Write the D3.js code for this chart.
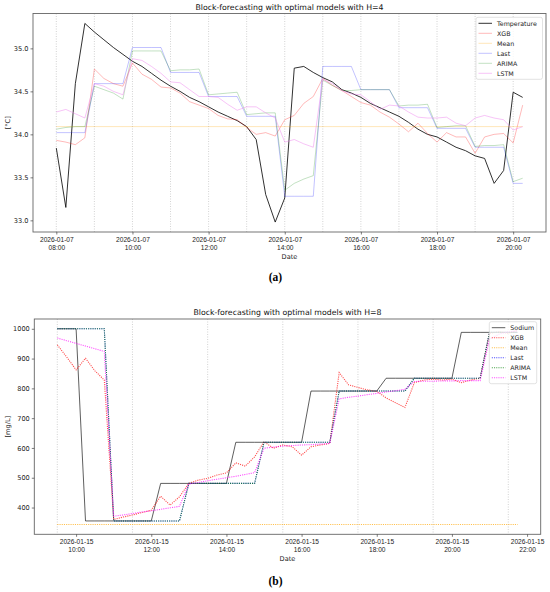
<!DOCTYPE html>
<html>
<head>
<meta charset="utf-8">
<script src="https://cdn.jsdelivr.net/npm/d3@7"></script>
<style>
  body { margin: 0; background: #fff; }
  svg { font-family: "DejaVu Sans", sans-serif; }
</style>
</head>
<body>
<svg id="chart" width="550" height="592"></svg>
<script>
// ---- panel (a): temperature, H=4 ----
var tempDate = "2026-01-07";
var tempTimes = ["08:00","08:15","08:30","08:45","09:00","09:15","09:30","09:45",
  "10:00","10:15","10:30","10:45","11:00","11:15","11:30","11:45",
  "12:00","12:15","12:30","12:45","13:00","13:15","13:30","13:45",
  "14:00","14:15","14:30","14:45","15:00","15:15","15:30","15:45",
  "16:00","16:15","16:30","16:45","17:00","17:15","17:30","17:45",
  "18:00","18:15","18:30","18:45","19:00","19:15","19:30","19:45",
  "20:00","20:15"];
var tempActual = [33.84,33.15,34.59,35.29,35.19,35.10,35.01,34.93,34.85,34.79,34.71,34.63,
  34.56,34.50,34.43,34.38,34.32,34.26,34.21,34.16,34.09,33.94,33.30,32.98,
  33.26,34.77,34.79,34.72,34.66,34.61,34.52,34.48,34.43,34.36,34.31,34.26,
  34.21,34.14,34.06,34.00,33.97,33.91,33.85,33.81,33.75,33.72,33.43,33.58,
  34.49,34.43];
var tempXGB = [33.93,33.91,33.88,33.96,34.76,34.65,34.59,34.56,34.83,34.70,34.64,34.55,
  34.54,34.48,34.38,34.34,34.30,34.22,34.18,34.17,34.08,34.00,34.02,33.98,
  34.17,34.22,34.36,34.44,34.65,34.57,34.51,34.44,34.37,34.34,34.26,34.20,
  34.12,34.03,34.13,34.01,33.91,34.02,33.97,33.97,33.78,33.97,34.00,34.01,
  33.90,34.34];
var tempMean = [34.09,34.09,34.09,34.09,34.09,34.09,34.09,34.09,34.09,34.09,34.09,34.09,
  34.09,34.09,34.09,34.09,34.09,34.09,34.09,34.09,34.09,34.09,34.09,34.09,
  34.09,34.09,34.09,34.09,34.09,34.09,34.09,34.09,34.09,34.09,34.09,34.09,
  34.09,34.09,34.09,34.09,34.09,34.09,34.09,34.09,34.09,34.09,34.09,34.09,
  34.09,34.09];
var tempLast = [34.02,34.02,34.02,34.02,34.59,34.59,34.59,34.59,35.01,35.01,35.01,35.01,
  34.72,34.72,34.72,34.72,34.44,34.44,34.44,34.44,34.21,34.21,34.21,34.21,
  33.28,33.28,33.28,33.28,34.79,34.79,34.79,34.79,34.52,34.52,34.52,34.52,
  34.31,34.31,34.31,34.31,34.07,34.07,34.07,34.07,33.85,33.85,33.85,33.85,
  33.43,33.43];
var tempARIMA = [34.06,34.08,34.09,34.09,34.56,34.52,34.48,34.41,34.97,34.97,34.97,34.97,
  34.74,34.75,34.75,34.76,34.46,34.47,34.48,34.49,34.23,34.24,34.25,34.25,
  33.35,33.43,33.48,33.52,34.63,34.57,34.51,34.51,34.52,34.52,34.52,34.52,
  34.33,34.34,34.34,34.35,34.08,34.09,34.10,34.10,33.86,33.87,33.87,33.88,
  33.45,33.49];
var tempLSTM = [34.26,34.29,34.24,34.19,34.59,34.56,34.50,34.46,34.88,34.86,34.79,34.71,
  34.61,34.60,34.52,34.44,34.44,34.43,34.35,34.28,34.32,34.32,34.25,34.19,
  33.91,33.94,33.89,33.85,34.64,34.59,34.51,34.47,34.46,34.38,34.29,34.34,
  34.33,34.26,34.20,34.19,34.19,34.20,34.13,34.10,34.19,34.22,34.19,34.17,
  34.05,34.09];
var tempYTicks = [33.0, 33.5, 34.0, 34.5, 35.0];

// ---- panel (b): sodium, H=8 ----
var sodDate = "2026-01-15";
var sodTimes = ["09:30","09:45","10:00","10:15","10:30","10:45","11:00","11:15",
  "11:30","11:45","12:00","12:15","12:30","12:45","13:00","13:15",
  "13:30","13:45","14:00","14:15","14:30","14:45","15:00","15:15",
  "15:30","15:45","16:00","16:15","16:30","16:45","17:00","17:15",
  "17:30","17:45","18:00","18:15","18:30","18:45","19:00","19:15",
  "19:30","19:45","20:00","20:15","20:30","20:45","21:00","21:15",
  "21:30","21:45"];
var sodActual = [1000,1000,1000,355,355,355,355,355,355,355,355,481,481,481,481,481,
  481,481,481,619,619,619,619,619,619,619,619,791,791,791,791,791,
  791,791,791,834,834,834,834,834,834,834,834,988,988,988,988,988,
  988,988];
var sodXGB = [946,905,862,901,859,828,360,368,375,383,391,438,408,436,481,492,
  498,509,516,550,539,570,621,599,610,604,576,604,610,615,853,812,
  803,795,790,768,752,736,819,828,831,828,831,819,828,834,985,990,
  985,995];
var sodMean = [343,343,343,343,343,343,343,343,343,343,343,343,343,343,343,343,
  343,343,343,343,343,343,343,343,343,343,343,343,343,343,343,343,
  343,343,343,343,343,343,343,343,343,343,343,343,343,343,343,343,
  343,343];
var sodLast = [1000,1000,1000,1000,1000,1000,355,355,355,355,355,355,355,355,481,481,
  481,481,481,481,481,481,619,619,619,619,619,619,619,619,791,791,
  791,791,791,791,791,791,834,834,834,834,834,834,834,834,988,988,
  988,988];
var sodARIMA = [1000,1000,1000,1000,1000,1000,355,355,355,355,355,355,355,355,481,481,
  481,481,481,481,481,481,619,619,619,619,619,619,619,619,791,791,
  791,791,791,791,791,791,834,834,834,834,834,834,834,834,988,988,
  988,988];
var sodLSTM = [969,960,951,942,933,924,371,375,380,385,389,394,399,404,479,484,
  490,495,500,505,511,517,599,603,606,608,610,611,613,615,765,770,
  774,779,783,788,792,797,823,824,824,825,825,826,826,826,965,982,
  990,993];
var sodYTicks = [400, 500, 600, 700, 800, 900, 1000];

var parseTime = d3.timeParse("%Y-%m-%d %H:%M");
var fmtDay = d3.timeFormat("%Y-%m-%d");
var fmtHour = d3.timeFormat("%H:%M");

var svg = d3.select("#chart");

function drawPanel(p) {
  var times = p.times.map(function(t) { return parseTime(p.date + " " + t); });
  var allValues = [].concat.apply([], p.series.map(function(s) { return s.values; }));

  // matplotlib-like 5% margins around the data
  var tExt = d3.extent(times);
  var tPad = (tExt[1] - tExt[0]) * 0.05;
  var vExt = d3.extent(allValues);
  var vPad = (vExt[1] - vExt[0]) * 0.05;

  var x = d3.scaleTime()
    .domain([new Date(+tExt[0] - tPad), new Date(+tExt[1] + tPad)])
    .range([p.left, p.right]);
  var y = d3.scaleLinear()
    .domain([vExt[0] - vPad, vExt[1] + vPad])
    .range([p.bottom, p.top]);

  var g = svg.append("g");

  // block boundaries as dotted vertical grid
  g.selectAll(".grid")
    .data(times.filter(function(d, i) { return i % p.H === 0; }))
    .enter().append("line")
    .attr("x1", function(d) { return x(d); })
    .attr("x2", function(d) { return x(d); })
    .attr("y1", p.top)
    .attr("y2", p.bottom)
    .attr("stroke", "#c8c8c8")
    .attr("stroke-width", 0.8)
    .attr("stroke-dasharray", "1,1.5");

  var line = d3.line()
    .x(function(d, i) { return x(times[i]); })
    .y(function(d) { return y(d); });

  p.series.forEach(function(s) {
    g.append("path")
      .attr("d", line(s.values))
      .attr("fill", "none")
      .attr("stroke", s.color)
      .attr("stroke-opacity", s.opacity)
      .attr("stroke-width", s.width)
      .attr("stroke-dasharray", s.dash || null);
  });

  // frame
  g.append("rect")
    .attr("x", p.left).attr("y", p.top)
    .attr("width", p.right - p.left).attr("height", p.bottom - p.top)
    .attr("fill", "none").attr("stroke", "#666").attr("stroke-width", 0.9);

  var xAxis = g.append("g")
    .attr("transform", "translate(0," + p.bottom + ")")
    .call(d3.axisBottom(x).ticks(d3.timeHour.every(2)).tickSize(2.5).tickFormat(""));
  xAxis.select(".domain").remove();
  xAxis.selectAll(".tick line").attr("stroke", "#444").attr("stroke-width", 0.7);
  xAxis.selectAll(".tick").each(function(d) {
    var t = d3.select(this).append("text")
      .attr("fill", "#222").attr("font-size", 6.6).attr("text-anchor", "middle");
    t.append("tspan").attr("x", 0).attr("y", 9.5).text(fmtDay(d));
    t.append("tspan").attr("x", 0).attr("y", 17.5).text(fmtHour(d));
  });

  var yAxis = g.append("g")
    .attr("transform", "translate(" + p.left + ",0)")
    .call(d3.axisLeft(y).tickValues(p.yTicks).tickSize(2.5).tickPadding(2)
      .tickFormat(p.yFormat));
  yAxis.select(".domain").remove();
  yAxis.selectAll(".tick line").attr("stroke", "#444").attr("stroke-width", 0.7);
  yAxis.selectAll(".tick text").attr("fill", "#222").attr("font-size", 6.6)
    .attr("font-family", "DejaVu Sans");

  g.append("text")
    .attr("x", (p.left + p.right) / 2).attr("y", p.top - 4)
    .attr("text-anchor", "middle").attr("font-size", 7.8).attr("fill", "#111")
    .text(p.title);
  g.append("text")
    .attr("x", (p.left + p.right) / 2).attr("y", p.bottom + 27)
    .attr("text-anchor", "middle").attr("font-size", 6.6).attr("fill", "#222")
    .text("Date");
  g.append("text")
    .attr("transform", "translate(10," + (p.top + p.bottom) / 2 + ") rotate(-90)")
    .attr("text-anchor", "middle").attr("font-size", 6.6).attr("fill", "#222")
    .text(p.yLabel);

  // legend
  var lg = g.append("g").attr("transform", "translate(" + p.legend.x + "," + p.legend.y + ")");
  lg.append("rect")
    .attr("width", p.legend.w).attr("height", p.series.length * 10 + 2)
    .attr("rx", 2)
    .attr("fill", "#fff").attr("fill-opacity", 0.8)
    .attr("stroke", "#d6d6d6").attr("stroke-width", 0.7);
  p.series.forEach(function(s, i) {
    var yy = 6 + i * 10;
    lg.append("line")
      .attr("x1", 2.5).attr("x2", 16).attr("y1", yy).attr("y2", yy)
      .attr("stroke", s.color).attr("stroke-opacity", s.opacity)
      .attr("stroke-width", s.width).attr("stroke-dasharray", s.dash || null);
    lg.append("text")
      .attr("x", 21).attr("y", yy + 2.3)
      .attr("font-size", 6.3).attr("fill", "#222")
      .text(s.name);
  });

  svg.append("text")
    .attr("x", 275.5).attr("y", p.caption)
    .attr("text-anchor", "middle")
    .attr("font-family", "Liberation Serif, serif")
    .attr("font-weight", "bold").attr("font-size", 11.5)
    .text(p.captionText);
}

drawPanel({
  date: tempDate, times: tempTimes, H: 4,
  left: 33, right: 546, top: 13.5, bottom: 232,
  yTicks: tempYTicks, yFormat: d3.format(".1f"), yLabel: "[°C]",
  title: "Block-forecasting with optimal models with H=4",
  legend: { x: 476, y: 17.3, w: 66.5 },
  caption: 281, captionText: "(a)",
  series: [
    { name: "Temperature", values: tempActual, color: "#000", opacity: 0.9, width: 0.9 },
    { name: "XGB", values: tempXGB, color: "red", opacity: 0.35, width: 0.8 },
    { name: "Mean", values: tempMean, color: "orange", opacity: 0.35, width: 0.8 },
    { name: "Last", values: tempLast, color: "blue", opacity: 0.3, width: 0.8 },
    { name: "ARIMA", values: tempARIMA, color: "green", opacity: 0.3, width: 0.8 },
    { name: "LSTM", values: tempLSTM, color: "violet", opacity: 0.6, width: 0.8 }
  ]
});

drawPanel({
  date: sodDate, times: sodTimes, H: 8,
  left: 34.3, right: 540.7, top: 319, bottom: 534.3,
  yTicks: sodYTicks, yFormat: d3.format("d"), yLabel: "[mg/L]",
  title: "Block-forecasting with optimal models with H=8",
  legend: { x: 489.3, y: 321.7, w: 47.4 },
  caption: 585, captionText: "(b)",
  series: [
    { name: "Sodium", values: sodActual, color: "#000", opacity: 0.7, width: 0.9 },
    { name: "XGB", values: sodXGB, color: "red", opacity: 0.7, width: 1.1, dash: "1.1,1.1" },
    { name: "Mean", values: sodMean, color: "orange", opacity: 0.7, width: 1.1, dash: "1.1,1.1" },
    { name: "Last", values: sodLast, color: "blue", opacity: 0.7, width: 1.1, dash: "1.1,1.1" },
    { name: "ARIMA", values: sodARIMA, color: "green", opacity: 0.7, width: 1.1, dash: "1.1,1.1" },
    { name: "LSTM", values: sodLSTM, color: "magenta", opacity: 0.7, width: 1.1, dash: "1.1,1.1" }
  ]
});
</script>
</body>
</html>
